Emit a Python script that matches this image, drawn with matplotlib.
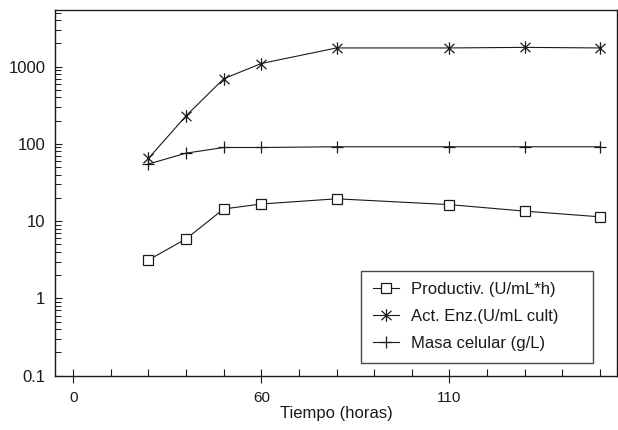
import matplotlib
matplotlib.use("Agg")
import matplotlib.pyplot as plt
from matplotlib.path import Path
from matplotlib.ticker import FixedLocator, FixedFormatter, LogLocator, NullFormatter

# time axis: the reference puts one tick every 12 h, labelled 0 / 60 / 110
hours = [24, 36, 48, 60, 84, 120, 144, 168]
productiv = [3.15, 5.9, 14.4, 16.7, 19.5, 16.4, 13.5, 11.4]
act_enz = [65, 231, 698, 1100, 1750, 1750, 1780, 1750]
masa = [55, 76, 90, 90, 92, 92, 92, 92]

labels = ["Productiv. (U/mL*h)", "Act. Enz.(U/mL cult)", "Masa celular (g/L)"]
xtick_pos = [0, 60, 120]
xtick_lab = ["0", "60", "110"]
ytick_pos = [0.1, 1, 10, 100, 1000]
ytick_lab = ["0.1", "1", "10", "100", "1000"]

plt.rcParams["font.family"] = ["Liberation Sans", "DejaVu Sans"]
ink = "#1a1a1a"

# six-armed asterisk: vertical bar plus an X
star = Path([(0, -1), (0, 1), (-0.8, -0.75), (0.8, 0.75), (-0.8, 0.75), (0.8, -0.75)],
            [Path.MOVETO, Path.LINETO] * 3)

fig = plt.figure(figsize=(6.18, 4.30), dpi=100)
ax = fig.add_axes([0.089, 0.1263, 0.909, 0.8504])

ax.plot(hours, productiv, color=ink, lw=0.8, marker="s", ms=7,
        mfc="white", mec=ink, mew=0.9, label=labels[0])
ax.plot(hours, act_enz, color=ink, lw=0.8, marker=star, ms=9,
        mec=ink, mew=0.9, label=labels[1])
ax.plot(hours, masa, color=ink, lw=0.8, marker="+", ms=9,
        mec=ink, mew=0.9, label=labels[2])

ax.set_yscale("log")
ax.set_ylim(0.1, 5420)
ax.set_xlim(-5.8, 173.4)

ax.yaxis.set_major_locator(FixedLocator(ytick_pos))
ax.yaxis.set_major_formatter(FixedFormatter(ytick_lab))
ax.yaxis.set_minor_locator(LogLocator(base=10, subs=range(2, 10)))
ax.yaxis.set_minor_formatter(NullFormatter())
ax.tick_params(axis="y", which="major", direction="in", length=5, width=0.8,
               labelsize=12, pad=7, colors=ink)
ax.tick_params(axis="y", which="minor", direction="in", length=4, width=0.7, colors=ink)

ax.xaxis.set_major_locator(FixedLocator(xtick_pos))
ax.xaxis.set_major_formatter(FixedFormatter(xtick_lab))
ax.xaxis.set_minor_locator(FixedLocator([h for h in range(0, 169, 12)]))
ax.tick_params(axis="x", which="major", direction="inout", length=10, width=0.8,
               labelsize=11, pad=6, colors=ink)
ax.tick_params(axis="x", which="minor", direction="in", length=5, width=0.8, colors=ink)

for sp in ax.spines.values():
    sp.set_linewidth(1.0)
    sp.set_color(ink)

ax.set_xlabel("Tiempo (horas)", fontsize=12, color=ink, labelpad=1)

leg = ax.legend(loc="lower left", bbox_to_anchor=(0.545, 0.035, 0.413, 0.25),
                mode="expand", fontsize=12, frameon=True, fancybox=False,
                edgecolor=ink, handlelength=1.6, labelspacing=0.72,
                borderpad=0.7, handletextpad=0.7, borderaxespad=0)
leg.get_frame().set_linewidth(1.0)
for t in leg.get_texts():
    t.set_color(ink)

fig.savefig("out.png", dpi=100)
